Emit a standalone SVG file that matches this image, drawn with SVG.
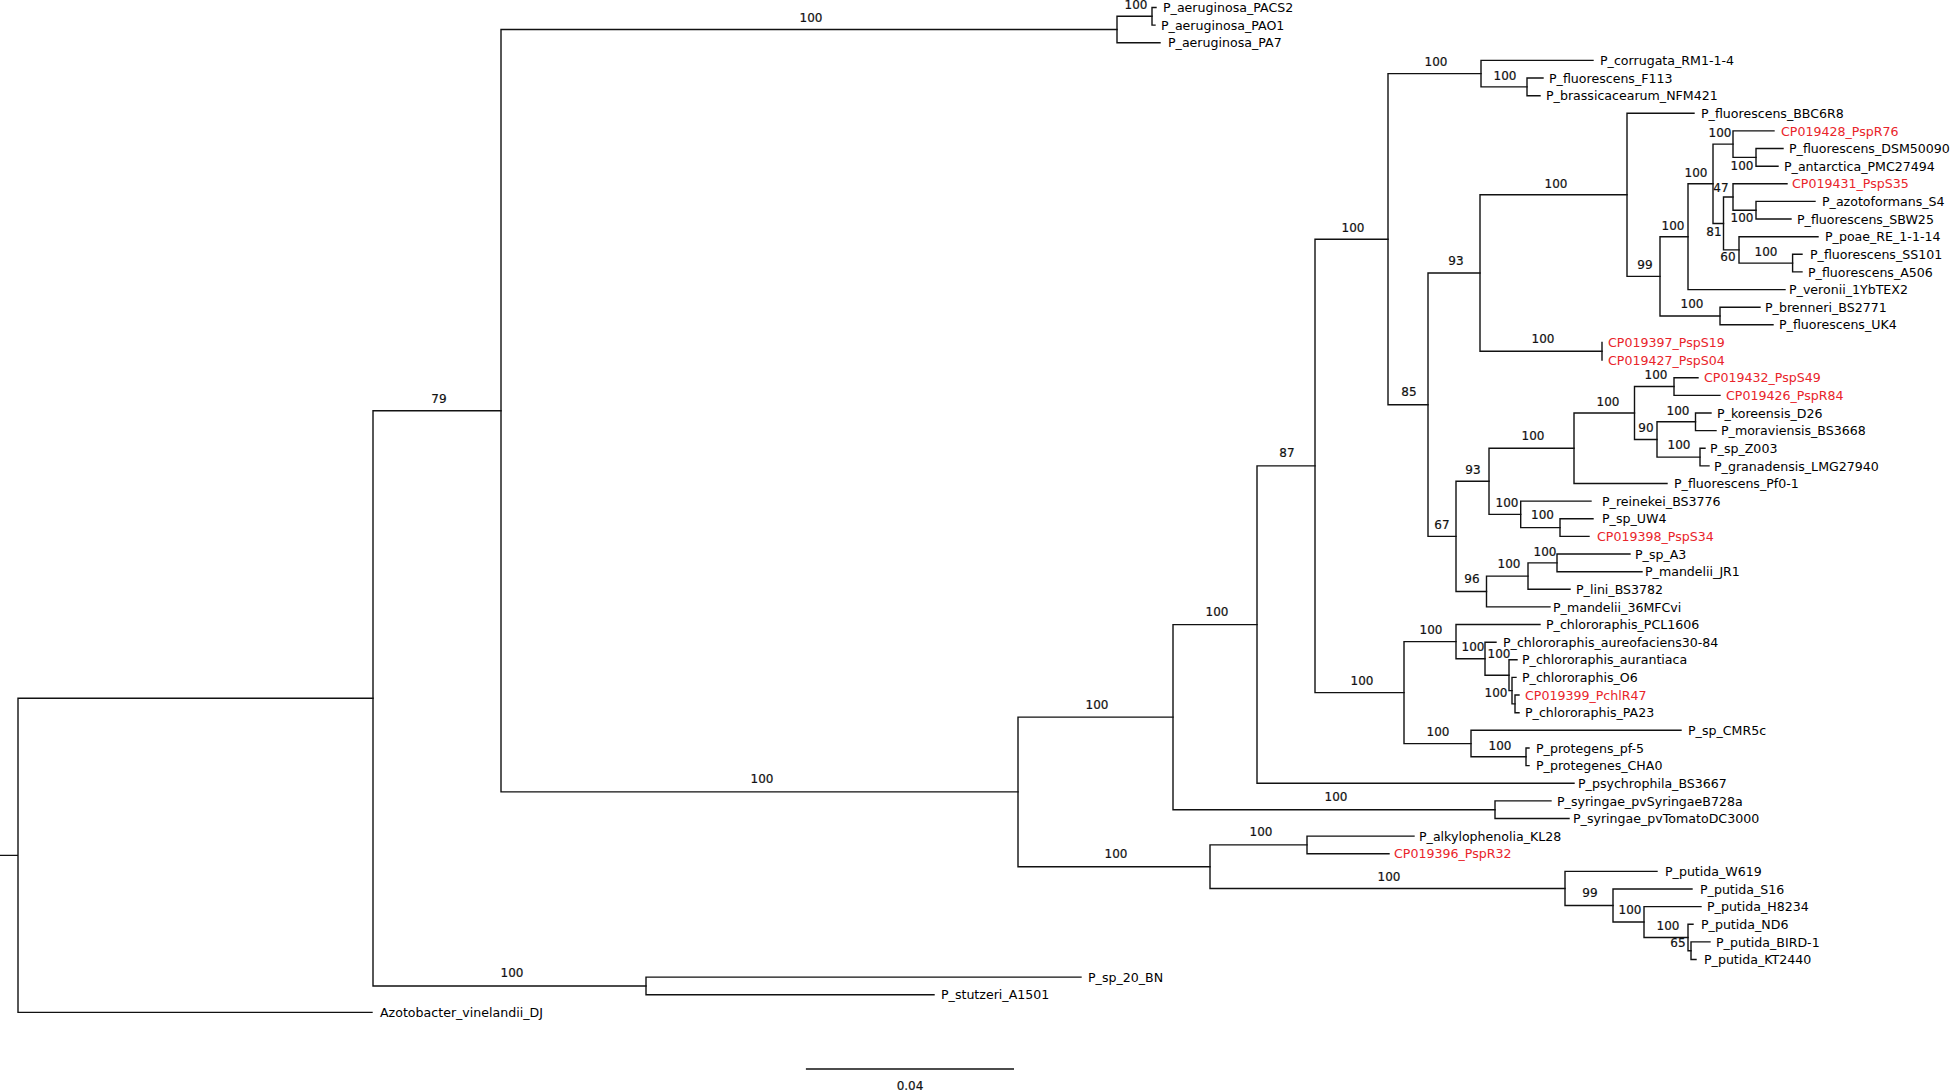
<svg xmlns="http://www.w3.org/2000/svg" width="1950" height="1091" viewBox="0 0 1950 1091">
<style>
.br{stroke:#111;stroke-width:1.4;fill:none;stroke-linecap:square}
.lf{font-family:"DejaVu Sans",Verdana,sans-serif;font-size:12.6px;fill:#000}
.red{fill:#e9242a}
.bs{font-family:"DejaVu Sans",Verdana,sans-serif;font-size:12px;fill:#111;text-anchor:middle;stroke:#111;stroke-width:0.2}
</style>
<rect width="1950" height="1091" fill="#fff"/>
<g id="connectors">
<path class="br" d="M0,855.4H18 M18,698.3V1012.4 M18,698.3H373 M18,1012.4H372"/>
<path class="br" d="M373,410.7V986 M373,410.7H501 M373,986H646"/>
<path class="br" d="M646,977.1V994.8 M646,977.1H1081 M646,994.8H934"/>
<path class="br" d="M501,29.5V791.9 M501,29.5H1117 M501,791.9H1018"/>
<path class="br" d="M1117,16.3V42.8 M1117,16.3H1152 M1117,42.8H1160"/>
<path class="br" d="M1152,7.5V25.1 M1152,7.5H1156 M1152,25.1H1155"/>
<path class="br" d="M1018,717.15V866.7 M1018,717.15H1173 M1018,866.7H1210"/>
<path class="br" d="M1173,624.6V809.7 M1173,624.6H1257 M1173,809.7H1495"/>
<path class="br" d="M1495,800.9V818.5 M1495,800.9H1551 M1495,818.5H1569"/>
<path class="br" d="M1257,465.9V783.3 M1257,465.9H1315 M1257,783.3H1574"/>
<path class="br" d="M1210,844.9V888.5 M1210,844.9H1307 M1210,888.5H1565"/>
<path class="br" d="M1307,836.1V853.7 M1307,836.1H1414 M1307,853.7H1389"/>
<path class="br" d="M1565,871.4V905.5 M1565,871.4H1657 M1565,905.5H1613"/>
<path class="br" d="M1613,889V922 M1613,889H1692 M1613,922H1644"/>
<path class="br" d="M1644,906.6V937.5 M1644,906.6H1701 M1644,937.5H1688"/>
<path class="br" d="M1688,924.3V950.7 M1688,924.3H1693 M1688,950.7H1691"/>
<path class="br" d="M1691,941.9V959.5 M1691,941.9H1710 M1691,959.5H1696"/>
<path class="br" d="M1315,239.2V692.6 M1315,239.2H1388 M1315,692.6H1404"/>
<path class="br" d="M1404,641.6V743.6 M1404,641.6H1456 M1404,743.6H1471"/>
<path class="br" d="M1456,624.5V658.7 M1456,624.5H1540 M1456,658.7H1485"/>
<path class="br" d="M1485,642.2V675.2 M1485,642.2H1496 M1485,675.2H1509"/>
<path class="br" d="M1509,659.8V690.6 M1509,659.8H1517 M1509,690.6H1512"/>
<path class="br" d="M1512,677.4V703.85 M1512,677.4H1516 M1512,703.85H1515"/>
<path class="br" d="M1515,695V712.7 M1515,695H1519 M1515,712.7H1519"/>
<path class="br" d="M1471,730.3V756.8 M1471,730.3H1681 M1471,756.8H1526"/>
<path class="br" d="M1526,748V765.6 M1526,748H1529 M1526,765.6H1529"/>
<path class="br" d="M1388,73.6V404.7 M1388,73.6H1481 M1388,404.7H1428"/>
<path class="br" d="M1481,60.4V86.85 M1481,60.4H1593 M1481,86.85H1527"/>
<path class="br" d="M1527,78V95.7 M1527,78H1543 M1527,95.7H1540"/>
<path class="br" d="M1428,273.05V536.4 M1428,273.05H1480 M1428,536.4H1456"/>
<path class="br" d="M1480,194.8V351.3 M1480,194.8H1627 M1480,351.3H1602"/>
<path class="br" d="M1627,113.3V276.35 M1627,113.3H1694 M1627,276.35H1660"/>
<path class="br" d="M1660,236.7V316 M1660,236.7H1688 M1660,316H1720"/>
<path class="br" d="M1688,183.8V289.6 M1688,183.8H1713 M1688,289.6H1785"/>
<path class="br" d="M1713,144.1V223.45 M1713,144.1H1733 M1713,223.45H1723.5"/>
<path class="br" d="M1733,130.9V157.35 M1733,130.9H1774 M1733,157.35H1756"/>
<path class="br" d="M1756,148.5V166.2 M1756,148.5H1783 M1756,166.2H1778"/>
<path class="br" d="M1723.5,197V249.9 M1723.5,197H1733 M1723.5,249.9H1739"/>
<path class="br" d="M1733,183.8V210.2 M1733,183.8H1787 M1733,210.2H1756"/>
<path class="br" d="M1756,201.4V219 M1756,201.4H1815 M1756,219H1791"/>
<path class="br" d="M1739,236.7V263.1 M1739,236.7H1818 M1739,263.1H1792.6"/>
<path class="br" d="M1792.6,254.3V271.9 M1792.6,254.3H1802 M1792.6,271.9H1802"/>
<path class="br" d="M1720,307.2V324.8 M1720,307.2H1760 M1720,324.8H1773"/>
<path class="br" d="M1602,342.5V360.1"/>
<path class="br" d="M1456,481.3V591.5 M1456,481.3H1489 M1456,591.5H1486.5"/>
<path class="br" d="M1489,448.25V514.35 M1489,448.25H1574 M1489,514.35H1520.7"/>
<path class="br" d="M1574,413V483.5 M1574,413H1634.5 M1574,483.5H1667"/>
<path class="br" d="M1634.5,386.55V439.45 M1634.5,386.55H1674 M1634.5,439.45H1657"/>
<path class="br" d="M1674,377.7V395.4 M1674,377.7H1698 M1674,395.4H1720"/>
<path class="br" d="M1657,421.8V457.1 M1657,421.8H1695.5 M1657,457.1H1700"/>
<path class="br" d="M1695.5,413V430.6 M1695.5,413H1711 M1695.5,430.6H1716"/>
<path class="br" d="M1700,448.3V465.9 M1700,448.3H1705 M1700,465.9H1709"/>
<path class="br" d="M1520.7,501.1V527.6 M1520.7,501.1H1591 M1520.7,527.6H1560"/>
<path class="br" d="M1560,518.8V536.4 M1560,518.8H1593 M1560,536.4H1589"/>
<path class="br" d="M1486.5,576.1V606.9 M1486.5,576.1H1528 M1486.5,606.9H1550"/>
<path class="br" d="M1528,562.85V589.3 M1528,562.85H1557 M1528,589.3H1570"/>
<path class="br" d="M1557,554V571.7 M1557,554H1630 M1557,571.7H1642"/>
</g>
<g id="leaves">
<g id="leaf-PACS2"><text class="lf" x="1163" y="12.1">P_aeruginosa_PACS2</text></g>
<g id="leaf-PAO1"><text class="lf" x="1161" y="29.7">P_aeruginosa_PAO1</text></g>
<g id="leaf-PA7"><text class="lf" x="1168" y="47.4">P_aeruginosa_PA7</text></g>
<g id="leaf-RM1"><text class="lf" x="1600" y="65.0">P_corrugata_RM1-1-4</text></g>
<g id="leaf-F113"><text class="lf" x="1549" y="82.6">P_fluorescens_F113</text></g>
<g id="leaf-NFM421"><text class="lf" x="1546" y="100.3">P_brassicacearum_NFM421</text></g>
<g id="leaf-BBC6R8"><text class="lf" x="1701" y="117.9">P_fluorescens_BBC6R8</text></g>
<g id="leaf-R76"><text class="lf red" x="1781" y="135.5">CP019428_PspR76</text></g>
<g id="leaf-DSM50090"><text class="lf" x="1789" y="153.1">P_fluorescens_DSM50090</text></g>
<g id="leaf-PMC27494"><text class="lf" x="1784" y="170.8">P_antarctica_PMC27494</text></g>
<g id="leaf-S35"><text class="lf red" x="1792" y="188.4">CP019431_PspS35</text></g>
<g id="leaf-S4"><text class="lf" x="1822" y="206.0">P_azotoformans_S4</text></g>
<g id="leaf-SBW25"><text class="lf" x="1797" y="223.6">P_fluorescens_SBW25</text></g>
<g id="leaf-RE"><text class="lf" x="1825" y="241.3">P_poae_RE_1-1-14</text></g>
<g id="leaf-SS101"><text class="lf" x="1810" y="258.9">P_fluorescens_SS101</text></g>
<g id="leaf-A506"><text class="lf" x="1808" y="276.5">P_fluorescens_A506</text></g>
<g id="leaf-1YbTEX2"><text class="lf" x="1789" y="294.2">P_veronii_1YbTEX2</text></g>
<g id="leaf-BS2771"><text class="lf" x="1765" y="311.8">P_brenneri_BS2771</text></g>
<g id="leaf-UK4"><text class="lf" x="1779" y="329.4">P_fluorescens_UK4</text></g>
<g id="leaf-S19"><text class="lf red" x="1608" y="347.1">CP019397_PspS19</text></g>
<g id="leaf-S04"><text class="lf red" x="1608" y="364.7">CP019427_PspS04</text></g>
<g id="leaf-S49"><text class="lf red" x="1704" y="382.3">CP019432_PspS49</text></g>
<g id="leaf-R84"><text class="lf red" x="1726" y="400.0">CP019426_PspR84</text></g>
<g id="leaf-D26"><text class="lf" x="1717" y="417.6">P_koreensis_D26</text></g>
<g id="leaf-BS3668"><text class="lf" x="1721" y="435.2">P_moraviensis_BS3668</text></g>
<g id="leaf-Z003"><text class="lf" x="1710" y="452.9">P_sp_Z003</text></g>
<g id="leaf-LMG27940"><text class="lf" x="1714" y="470.5">P_granadensis_LMG27940</text></g>
<g id="leaf-Pf0-1"><text class="lf" x="1674" y="488.1">P_fluorescens_Pf0-1</text></g>
<g id="leaf-BS3776"><text class="lf" x="1602" y="505.7">P_reinekei_BS3776</text></g>
<g id="leaf-UW4"><text class="lf" x="1602" y="523.4">P_sp_UW4</text></g>
<g id="leaf-S34"><text class="lf red" x="1597" y="541.0">CP019398_PspS34</text></g>
<g id="leaf-A3"><text class="lf" x="1635" y="558.6">P_sp_A3</text></g>
<g id="leaf-JR1"><text class="lf" x="1645" y="576.3">P_mandelii_JR1</text></g>
<g id="leaf-BS3782"><text class="lf" x="1576" y="593.9">P_lini_BS3782</text></g>
<g id="leaf-36MFCvi"><text class="lf" x="1553" y="611.5">P_mandelii_36MFCvi</text></g>
<g id="leaf-PCL1606"><text class="lf" x="1546" y="629.1">P_chlororaphis_PCL1606</text></g>
<g id="leaf-aureofaciens"><text class="lf" x="1503" y="646.8">P_chlororaphis_aureofaciens30-84</text></g>
<g id="leaf-aurantiaca"><text class="lf" x="1522" y="664.4">P_chlororaphis_aurantiaca</text></g>
<g id="leaf-O6"><text class="lf" x="1522" y="682.0">P_chlororaphis_O6</text></g>
<g id="leaf-R47"><text class="lf red" x="1525" y="699.6">CP019399_PchlR47</text></g>
<g id="leaf-PA23"><text class="lf" x="1525" y="717.3">P_chlororaphis_PA23</text></g>
<g id="leaf-CMR5c"><text class="lf" x="1688" y="734.9">P_sp_CMR5c</text></g>
<g id="leaf-pf-5"><text class="lf" x="1536" y="752.6">P_protegens_pf-5</text></g>
<g id="leaf-CHA0"><text class="lf" x="1536" y="770.2">P_protegenes_CHA0</text></g>
<g id="leaf-BS3667"><text class="lf" x="1578" y="787.9">P_psychrophila_BS3667</text></g>
<g id="leaf-B728a"><text class="lf" x="1557" y="805.5">P_syringae_pvSyringaeB728a</text></g>
<g id="leaf-DC3000"><text class="lf" x="1573" y="823.1">P_syringae_pvTomatoDC3000</text></g>
<g id="leaf-KL28"><text class="lf" x="1419" y="840.7">P_alkylophenolia_KL28</text></g>
<g id="leaf-R32"><text class="lf red" x="1394" y="858.3">CP019396_PspR32</text></g>
<g id="leaf-W619"><text class="lf" x="1665" y="876.0">P_putida_W619</text></g>
<g id="leaf-S16"><text class="lf" x="1700" y="893.6">P_putida_S16</text></g>
<g id="leaf-H8234"><text class="lf" x="1707" y="911.2">P_putida_H8234</text></g>
<g id="leaf-ND6"><text class="lf" x="1701" y="928.9">P_putida_ND6</text></g>
<g id="leaf-BIRD-1"><text class="lf" x="1716" y="946.5">P_putida_BIRD-1</text></g>
<g id="leaf-KT2440"><text class="lf" x="1704" y="964.1">P_putida_KT2440</text></g>
<g id="leaf-20_BN"><text class="lf" x="1088" y="981.7">P_sp_20_BN</text></g>
<g id="leaf-A1501"><text class="lf" x="941" y="999.4">P_stutzeri_A1501</text></g>
<g id="leaf-DJ"><text class="lf" x="380" y="1017.0">Azotobacter_vinelandii_DJ</text></g>
</g>
<g id="nodes">
<g id="node-A"><text class="bs" x="439" y="402.9">79</text></g>
<g id="node-SP"><text class="bs" x="512" y="977.4">100</text></g>
<g id="node-AER"><text class="bs" x="811" y="22.4">100</text></g>
<g id="node-AP"><text class="bs" x="1136" y="9.4">100</text></g>
<g id="node-C"><text class="bs" x="762" y="783.4">100</text></g>
<g id="node-D"><text class="bs" x="1097" y="709.4">100</text></g>
<g id="node-E"><text class="bs" x="1116" y="858.4">100</text></g>
<g id="node-G"><text class="bs" x="1217" y="616.4">100</text></g>
<g id="node-SYR"><text class="bs" x="1336" y="801.4">100</text></g>
<g id="node-N87"><text class="bs" x="1287" y="457.4">87</text></g>
<g id="node-NCP"><text class="bs" x="1362" y="685.4">100</text></g>
<g id="node-N100c"><text class="bs" x="1353" y="232.4">100</text></g>
<g id="node-Co1"><text class="bs" x="1436" y="66.4">100</text></g>
<g id="node-Co2"><text class="bs" x="1505" y="80.4">100</text></g>
<g id="node-N85"><text class="bs" x="1409" y="396.4">85</text></g>
<g id="node-N93a"><text class="bs" x="1456" y="265.4">93</text></g>
<g id="node-F1"><text class="bs" x="1556" y="188.4">100</text></g>
<g id="node-SN"><text class="bs" x="1543" y="343.4">100</text></g>
<g id="node-N99"><text class="bs" x="1645" y="269.4">99</text></g>
<g id="node-N100b"><text class="bs" x="1673" y="230.4">100</text></g>
<g id="node-N100a"><text class="bs" x="1696" y="177.4">100</text></g>
<g id="node-RN"><text class="bs" x="1720" y="137.4">100</text></g>
<g id="node-DA"><text class="bs" x="1742" y="170.4">100</text></g>
<g id="node-N47"><text class="bs" x="1721" y="192.4">47</text></g>
<g id="node-SS"><text class="bs" x="1742" y="222.4">100</text></g>
<g id="node-N81"><text class="bs" x="1714" y="236.4">81</text></g>
<g id="node-N60"><text class="bs" x="1728" y="261.4">60</text></g>
<g id="node-SA"><text class="bs" x="1766" y="256.4">100</text></g>
<g id="node-BU"><text class="bs" x="1692" y="308.4">100</text></g>
<g id="node-N67"><text class="bs" x="1442" y="529.4">67</text></g>
<g id="node-N93b"><text class="bs" x="1473" y="474.4">93</text></g>
<g id="node-Q2"><text class="bs" x="1533" y="440.4">100</text></g>
<g id="node-Q1"><text class="bs" x="1608" y="406.4">100</text></g>
<g id="node-SR"><text class="bs" x="1656" y="379.4">100</text></g>
<g id="node-KM"><text class="bs" x="1678" y="415.4">100</text></g>
<g id="node-N90"><text class="bs" x="1646" y="432.4">90</text></g>
<g id="node-ZG"><text class="bs" x="1679" y="449.4">100</text></g>
<g id="node-R1"><text class="bs" x="1507" y="507.4">100</text></g>
<g id="node-R2"><text class="bs" x="1542.5" y="519.4">100</text></g>
<g id="node-N96"><text class="bs" x="1472" y="583.4">96</text></g>
<g id="node-LN"><text class="bs" x="1509" y="568.4">100</text></g>
<g id="node-AJ"><text class="bs" x="1545" y="556.4">100</text></g>
<g id="node-CH1"><text class="bs" x="1431" y="634.4">100</text></g>
<g id="node-CH2"><text class="bs" x="1473" y="651.4">100</text></g>
<g id="node-CH3"><text class="bs" x="1499" y="658.4">100</text></g>
<g id="node-CH4"><text class="bs" x="1496" y="697.4">100</text></g>
<g id="node-PR1"><text class="bs" x="1438" y="736.4">100</text></g>
<g id="node-PR2"><text class="bs" x="1500" y="750.4">100</text></g>
<g id="node-F"><text class="bs" x="1261" y="836.4">100</text></g>
<g id="node-P1"><text class="bs" x="1389" y="881.4">100</text></g>
<g id="node-P2"><text class="bs" x="1590" y="897.4">99</text></g>
<g id="node-P3"><text class="bs" x="1630" y="914.4">100</text></g>
<g id="node-P4"><text class="bs" x="1668" y="930.4">100</text></g>
<g id="node-P5"><text class="bs" x="1678" y="947.4">65</text></g>
</g>
<g id="scale">
<path class="br" d="M806.6,1069H1013.3"/>
<text class="bs" x="910" y="1089.5">0.04</text>
</g>
</svg>
